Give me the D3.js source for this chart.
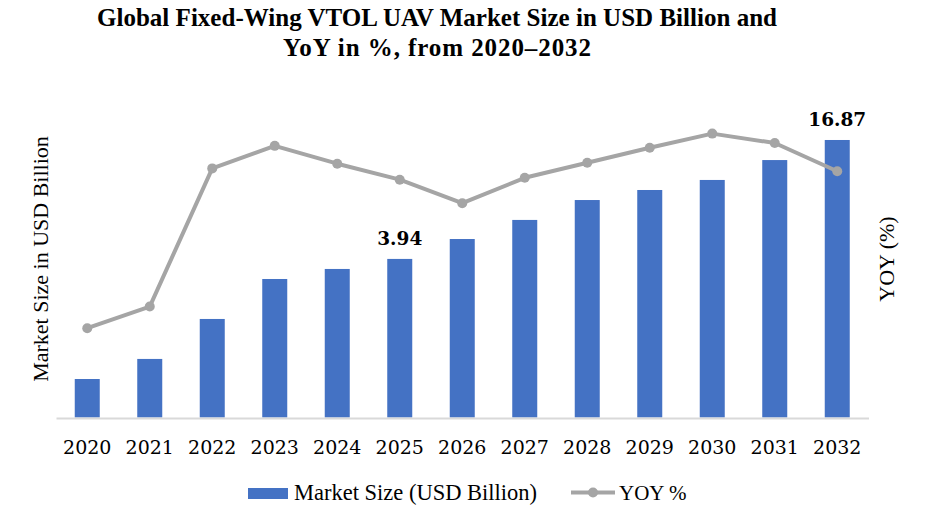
<!DOCTYPE html>
<html>
<head>
<meta charset="utf-8">
<script src="https://cdn.jsdelivr.net/npm/d3@7"></script>
<style>
  html, body { margin: 0; padding: 0; background: #fff; }
  svg { display: block; }
</style>
</head>
<body>
<svg id="chart" width="925" height="525"></svg>
<script>
// ---- data ----
const years = ["2020","2021","2022","2023","2024","2025","2026","2027","2028","2029","2030","2031","2032"];
const marketSize = [2.34, 3.56, 5.99, 8.42, 9.03, 9.64, 10.85, 12.01, 13.22, 13.83, 14.44, 15.65, 16.87];
const yoyPercent = [9.5, 11.8, 26.5, 28.9, 27.0, 25.3, 22.8, 25.5, 27.1, 28.7, 30.2, 29.2, 26.2];
const labelYears = ["2025", "2032"];
const labelTexts = ["3.94", "16.87"];
const titleLines = ["Global Fixed-Wing VTOL UAV Market Size in USD Billion and", "YoY in %, from 2020\u20132032"];
const seriesNames = ["Market Size (USD Billion)", "YOY %"];
const leftAxisTitle = "Market Size in USD Billion";
const rightAxisTitle = "YOY (%)";

// ---- layout ----
const svg = d3.select("#chart");
const barColor = "#4472c4", lineColor = "#a5a5a5";
const plotLeft = 56, plotRight = 868.5, plotTop = 88.5, plotBottom = 417.5;
const serif = "'Liberation Serif', 'Times New Roman', serif";
const serifD = "'DejaVu Serif', serif";

const x = d3.scaleBand().domain(years).range([plotLeft, plotRight]).paddingInner(0.6).paddingOuter(0.3);
const y = d3.scaleLinear().domain([0, 20]).range([plotBottom, plotTop]);
const y2 = d3.scaleLinear().domain([0, 35]).range([plotBottom, plotTop]);

// title
const titleWidths = [680, 308];
svg.append("g").selectAll("text").data(titleLines).join("text")
  .attr("x", 437).attr("y", (d, i) => 26 + i * 30)
  .attr("text-anchor", "middle")
  .attr("textLength", (d, i) => titleWidths[i])
  .style("font-family", serif).style("font-weight", "bold").style("font-size", "25px")
  .attr("fill", "#000").text(d => d);

// bars
svg.append("g").selectAll("rect").data(years).join("rect")
  .attr("x", d => x(d)).attr("width", x.bandwidth())
  .attr("y", (d, i) => y(marketSize[i]))
  .attr("height", (d, i) => y(0) - y(marketSize[i]))
  .attr("fill", barColor);

// x axis
const xAxis = svg.append("g").attr("transform", `translate(0,${plotBottom + 0.5})`)
  .call(d3.axisBottom(x).tickSize(0).tickSizeOuter(0));
xAxis.select(".domain").attr("stroke", "#d9d9d9").attr("stroke-width", 2);
xAxis.selectAll(".tick text").attr("y", 36).attr("dy", 0)
  .style("font-family", serifD).style("font-size", "19px").attr("fill", "#000");

// line
const line = d3.line().x((d, i) => x(years[i]) + x.bandwidth() / 2).y(d => y2(d));
svg.append("path").datum(yoyPercent)
  .attr("d", line).attr("fill", "none").attr("stroke", lineColor)
  .attr("stroke-width", 4).attr("stroke-linejoin", "round");
svg.append("g").selectAll("circle").data(yoyPercent).join("circle")
  .attr("cx", (d, i) => x(years[i]) + x.bandwidth() / 2)
  .attr("cy", d => y2(d)).attr("r", 5).attr("fill", lineColor);

// value labels
svg.append("g").selectAll("text").data(labelYears).join("text")
  .attr("x", d => x(d) + x.bandwidth() / 2)
  .attr("y", d => y(marketSize[years.indexOf(d)]) - 14)
  .attr("text-anchor", "middle")
  .style("font-family", serifD).style("font-weight", "bold").style("font-size", "18.5px")
  .attr("fill", "#000").text((d, i) => labelTexts[i]);

// axis titles
svg.append("text").attr("transform", "translate(48,259) rotate(-90)")
  .attr("text-anchor", "middle")
  .style("font-family", serif).style("font-size", "22px").attr("fill", "#000")
  .text(leftAxisTitle);
svg.append("text").attr("transform", "translate(894,259) rotate(-90)")
  .attr("text-anchor", "middle")
  .style("font-family", serif).style("font-size", "22px").attr("fill", "#000")
  .text(rightAxisTitle);

// legend
const lg = svg.append("g");
lg.append("rect").attr("x", 248).attr("y", 488).attr("width", 40).attr("height", 11).attr("fill", barColor);
lg.append("text").attr("x", 294).attr("y", 500)
  .style("font-family", serif).style("font-size", "22.5px").attr("fill", "#000").text(seriesNames[0]);
lg.append("line").attr("x1", 571).attr("x2", 615).attr("y1", 492.5).attr("y2", 492.5)
  .attr("stroke", lineColor).attr("stroke-width", 4);
lg.append("circle").attr("cx", 593).attr("cy", 492.5).attr("r", 5).attr("fill", lineColor);
lg.append("text").attr("x", 619).attr("y", 500)
  .style("font-family", serif).style("font-size", "21px").attr("fill", "#000").text(seriesNames[1]);
</script>
</body>
</html>
